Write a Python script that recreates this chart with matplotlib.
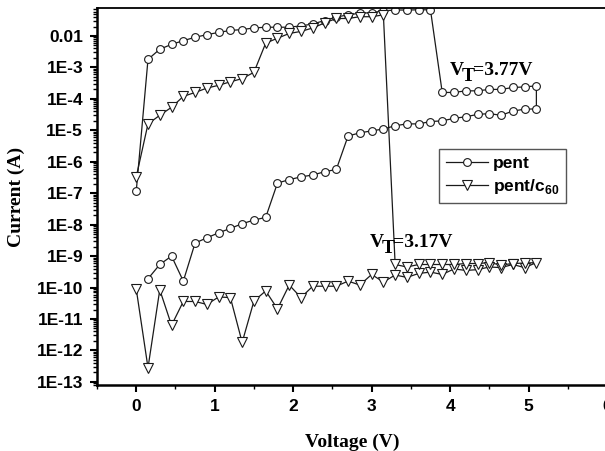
import numpy as np
import matplotlib
matplotlib.use("Agg")
import matplotlib.pyplot as plt
from matplotlib.ticker import FixedLocator, MultipleLocator, LogLocator, FuncFormatter, NullFormatter

# Datos: barrido de ida (rama baja) y de vuelta (rama alta)
pent_ida_v = [0.15, 0.30, 0.45, 0.60, 0.75, 0.90, 1.05, 1.20, 1.35, 1.50, 1.65, 1.80,
              1.95, 2.10, 2.25, 2.40, 2.55, 2.70, 2.85, 3.00, 3.15, 3.30, 3.45, 3.60,
              3.75, 3.90, 4.05, 4.20, 4.35, 4.50, 4.65, 4.80, 4.95, 5.10]
pent_ida_i = [1.9e-10, 5.4e-10, 1.0e-9, 1.6e-10, 2.6e-9, 3.8e-9, 5.5e-9, 7.6e-9, 1.07e-8,
              1.4e-8, 1.7e-8, 2.1e-7, 2.7e-7, 3.3e-7, 3.8e-7, 4.8e-7, 5.7e-7, 6.6e-6,
              8.3e-6, 9.6e-6, 1.1e-5, 1.4e-5, 1.6e-5, 1.6e-5, 1.9e-5, 2.0e-5, 2.4e-5,
              2.7e-5, 3.2e-5, 3.4e-5, 3.0e-5, 4.1e-5, 4.7e-5, 4.8e-5]
pent_vuelta_v = [5.10, 4.95, 4.80, 4.65, 4.50, 4.35, 4.20, 4.05, 3.90, 3.75, 3.60, 3.45,
                 3.30, 3.15, 3.00, 2.85, 2.70, 2.55, 2.40, 2.25, 2.10, 1.95, 1.80, 1.65,
                 1.50, 1.35, 1.20, 1.05, 0.90, 0.75, 0.60, 0.45, 0.30, 0.15, 0.00]
pent_vuelta_i = [2.6e-4, 2.4e-4, 2.3e-4, 2.0e-4, 2.0e-4, 1.8e-4, 1.8e-4, 1.6e-4, 1.6e-4,
                 0.068, 0.068, 0.067, 0.067, 0.063, 0.055, 0.053, 0.047, 0.040, 0.031,
                 0.024, 0.021, 0.019, 0.019, 0.019, 0.018, 0.016, 0.015, 0.013, 0.011,
                 9.1e-3, 7.1e-3, 5.4e-3, 3.8e-3, 1.8e-3, 1.15e-7]

c60_ida_v = [0.00, 0.15, 0.30, 0.45, 0.60, 0.75, 0.90, 1.05, 1.20, 1.35, 1.50, 1.65,
             1.80, 1.95, 2.10, 2.25, 2.40, 2.55, 2.70, 2.85, 3.00, 3.15, 3.30, 3.45,
             3.60, 3.75, 3.90, 4.05, 4.20, 4.35, 4.50, 4.65, 4.80, 4.95, 5.10]
c60_ida_i = [9e-11, 2.8e-13, 8.5e-11, 6.3e-12, 3.6e-11, 3.6e-11, 2.9e-11, 5.0e-11, 4.8e-11,
             1.8e-12, 3.7e-11, 7.8e-11, 2.1e-11, 1.2e-10, 4.8e-11, 1.1e-10, 1.1e-10,
             1.1e-10, 1.6e-10, 1.2e-10, 2.6e-10, 1.5e-10, 2.5e-10, 2.1e-10, 2.8e-10,
             3.1e-10, 2.6e-10, 3.9e-10, 3.5e-10, 3.7e-10, 4.5e-10, 4.3e-10, 5.4e-10,
             4.3e-10, 6.2e-10]
c60_vuelta_v = [4.95, 4.80, 4.65, 4.50, 4.35, 4.20, 4.05, 3.90, 3.75, 3.60, 3.45, 3.30,
                3.15, 3.00, 2.85, 2.70, 2.55, 2.40, 2.25, 2.10, 1.95, 1.80, 1.65, 1.50,
                1.35, 1.20, 1.05, 0.90, 0.75, 0.60, 0.45, 0.30, 0.15, 0.00]
c60_vuelta_i = [6.0e-10, 5.8e-10, 5.2e-10, 6.2e-10, 5.8e-10, 5.8e-10, 5.4e-10, 5.4e-10,
                5.4e-10, 5.4e-10, 4.5e-10, 5.4e-10, 0.047, 0.041, 0.041, 0.036, 0.036,
                0.026, 0.018, 0.014, 0.012, 8.5e-3, 5.9e-3, 7.0e-4, 4.4e-4, 3.5e-4,
                2.7e-4, 2.2e-4, 1.6e-4, 1.2e-4, 5.4e-5, 3.0e-5, 1.6e-5, 3.3e-7]

etiquetas = ["pent", r"pent/c$_{\mathbf{60}}$"]

plt.rcParams["mathtext.fontset"] = "custom"
plt.rcParams["mathtext.bf"] = "Liberation Sans:bold"
plt.rcParams["mathtext.rm"] = "Liberation Sans:bold"

fig = plt.figure(figsize=(6.05, 4.51), dpi=100)
ax = fig.add_axes([97 / 605, 66 / 451, 510 / 605, 377 / 451])

estilo = dict(color="#1a1a1a", lw=0.9, mfc="white", mec="#1a1a1a", mew=0.8)
ax.plot(pent_ida_v + pent_vuelta_v, pent_ida_i + pent_vuelta_i,
        marker="o", ms=5.6, label=etiquetas[0], **estilo)
ax.plot(c60_ida_v + c60_vuelta_v, c60_ida_i + c60_vuelta_i,
        marker="v", ms=7, label=etiquetas[1], **estilo)

ax.set_yscale("log")
ax.set_xlim(-0.5, 6.0)
ax.set_ylim(10 ** -13.1, 10 ** -1.11)

# Ejes
ax.xaxis.set_major_locator(MultipleLocator(1))
ax.xaxis.set_minor_locator(MultipleLocator(0.5))
ax.yaxis.set_major_locator(FixedLocator([10.0 ** k for k in range(-13, -1)]))
ax.yaxis.set_minor_locator(LogLocator(base=10, subs=np.arange(2, 10), numticks=30))
ax.yaxis.set_minor_formatter(NullFormatter())

def fmt_y(val, pos):
    k = int(round(np.log10(val)))
    return "0.01" if k == -2 else "1E%d" % k

ax.yaxis.set_major_formatter(FuncFormatter(fmt_y))

for s in ["top", "right"]:
    ax.spines[s].set_linewidth(1.3)
for s in ["left", "bottom"]:
    ax.spines[s].set_linewidth(1.8)
ax.tick_params(which="major", direction="out", length=5, width=1.5, pad=5,
               top=False, right=False)
ax.tick_params(which="minor", direction="out", length=3, width=1.0,
               top=False, right=False)
for lab in ax.get_xticklabels() + ax.get_yticklabels():
    lab.set_fontfamily("Liberation Sans")
    lab.set_fontweight("bold")
    lab.set_fontsize(12.5)

ax.set_xlabel("Voltage (V)", fontfamily="Liberation Serif", fontweight="bold",
              fontsize=14, labelpad=14)
ax.set_ylabel("Current (A)", fontfamily="Liberation Serif", fontweight="bold",
              fontsize=14, labelpad=8)

# Etiquetas de voltaje umbral
def etiqueta_vt(x, y, texto):
    kw = dict(xycoords="data", textcoords="offset pixels", ha="left", va="baseline",
              fontfamily="Liberation Serif", fontweight="bold", fontsize=14)
    ax.annotate("V", (x, y), xytext=(0, 0), **kw)
    ax.annotate("T", (x, y), xytext=(12, -6), **kw)
    ax.annotate(texto, (x, y), xytext=(23, 0), **kw)

etiqueta_vt(4.0, 5.7e-4, "=3.77V")
etiqueta_vt(2.976, 1.95e-9, "=3.17V")

leg = ax.legend(loc="upper left", bbox_to_anchor=(0.671, 0.626), borderaxespad=0,
                numpoints=1, handlelength=2.4, handletextpad=0.3, labelspacing=0.35,
                borderpad=0.4, fancybox=False, framealpha=1,
                prop={"family": "Liberation Sans", "weight": "bold", "size": 12.5})
leg.get_frame().set_edgecolor("#555555")
leg.get_frame().set_linewidth(1.0)

fig.savefig("out.png", dpi=100)
